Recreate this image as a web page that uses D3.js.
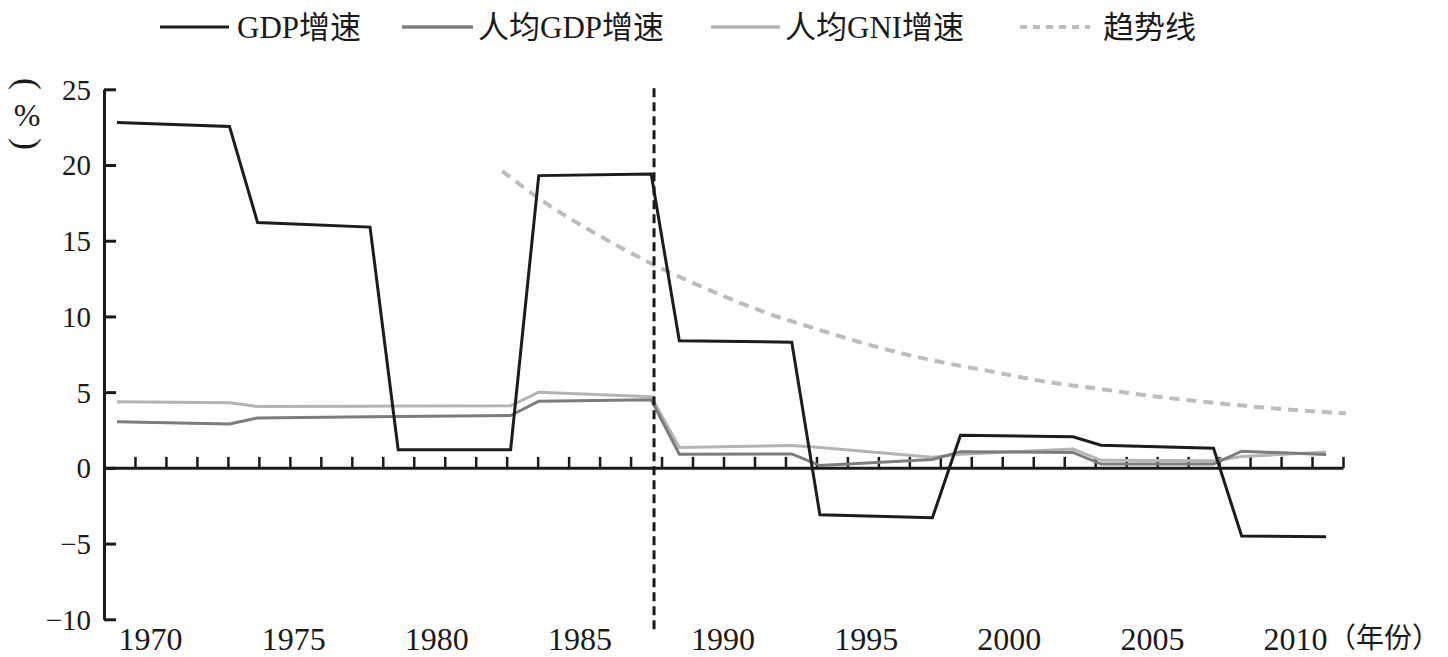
<!DOCTYPE html>
<html>
<head>
<meta charset="utf-8">
<script src="https://cdn.jsdelivr.net/npm/d3@7"></script>
<style>
  html, body { margin: 0; padding: 0; background: #fff; }
  svg { display: block; }
</style>
</head>
<body>
<svg id="chart" width="1448" height="657"></svg>
<script>
// ---------------- data ----------------
const years = [1969, 1973, 1974, 1978, 1979, 1983, 1984, 1988, 1989, 1993, 1994, 1998, 1999, 2003, 2004, 2008, 2009, 2012];
const gdpGrowth = [22.8, 22.55, 16.2, 15.9, 1.2, 1.2, 19.3, 19.4, 8.4, 8.3, -3.1, -3.3, 2.15, 2.05, 1.5, 1.3, -4.5, -4.55];
const gdpPerCapitaGrowth = [3.05, 2.9, 3.3, 3.38, 3.4, 3.46, 4.4, 4.5, 0.9, 0.92, 0.15, 0.55, 1.07, 1.02, 0.25, 0.25, 1.1, 0.88];
const gniPerCapitaGrowth = [4.36, 4.3, 4.05, 4.07, 4.08, 4.1, 5.0, 4.7, 1.35, 1.47, 1.35, 0.7, 0.9, 1.25, 0.5, 0.47, 0.75, 1.05];
const trendYears = [1982.7, 1984, 1986, 1988, 1990, 1992, 1994, 1996, 1998, 2000, 2002, 2004, 2006, 2008, 2010, 2012.7];
const trendValues = [19.6, 17.8, 15.5, 13.5, 11.8, 10.3, 9.1, 8.0, 7.1, 6.4, 5.7, 5.2, 4.7, 4.3, 3.95, 3.6];
const dividerYear = 1988.1;
const yTickValues = [25, 20, 15, 10, 5, 0, -5, -10];
const xTickLabels = [1970, 1975, 1980, 1985, 1990, 1995, 2000, 2005, 2010];
const minorTickCount = 40;
const seriesNames = ["GDP增速", "人均GDP增速", "人均GNI增速", "趋势线"];
const yUnitLabel = "%";
const xUnitLabel = "（年份）";

// ---------------- layout / style ----------------
const svg = d3.select("#chart");
const INK = "#1a1a1a";
const SERIF = '"Liberation Serif", "Times New Roman", serif';
const MIXED = '"Liberation Serif", "Noto Sans CJK SC", serif';
const CJK = '"Noto Sans CJK SC", sans-serif';
const colors = ["#1c1c1c", "#7c7c7c", "#b4b4b4", "#bdbdbd"];

const y = d3.scaleLinear().domain([-10, 25]).range([619.3, 89.3]);
const xData = d3.scaleLinear().domain([1969, 2012]).range([117, 1326]);
const xLabel = d3.scaleLinear().domain([1970, 2010]).range([150, 1295]);
const xMinor = d3.scaleLinear().domain([0, minorTickCount]).range([104, 1343]);
const axisX = 104;

// ---------------- axes ----------------
const yAxis = svg.append("g").attr("transform", `translate(${axisX},0)`)
  .call(d3.axisLeft(y).tickValues(yTickValues).tickSizeInner(-12).tickSizeOuter(0).tickPadding(13)
    .tickFormat(d => d < 0 ? "−" + Math.abs(d) : String(d)));
yAxis.select(".domain").attr("stroke", INK).attr("stroke-width", 3);
yAxis.selectAll(".tick line").attr("stroke", INK).attr("stroke-width", 3);
yAxis.selectAll(".tick text").style("font-family", SERIF).style("font-size", "29px").attr("fill", INK).attr("dy", "0.34em");

const xAxis = svg.append("g").attr("transform", `translate(0,${y(0)})`)
  .call(d3.axisTop(xMinor).tickValues(d3.range(1, minorTickCount + 1)).tickSizeInner(11).tickSizeOuter(0).tickFormat(""));
xAxis.select(".domain").attr("stroke", INK).attr("stroke-width", 3);
xAxis.selectAll(".tick line").attr("stroke", INK).attr("stroke-width", 2.5);

const xLab = svg.append("g").attr("transform", "translate(0,650)")
  .call(d3.axisBottom(xLabel).tickValues(xTickLabels).tickSize(0).tickFormat(d3.format("d")));
xLab.select(".domain").remove();
xLab.selectAll(".tick text").attr("y", 0).attr("dy", 0).style("font-family", SERIF).style("font-size", "32px").attr("fill", INK);

svg.append("text").attr("x", 1328).attr("y", 648).style("font-family", CJK)
  .style("font-size", "28px").attr("fill", INK).text(xUnitLabel);

// vertical unit label (%)
const unitG = svg.append("g").attr("fill", INK);
unitG.append("text").attr("transform", "translate(27,84) rotate(90)").attr("text-anchor", "middle")
  .attr("dy", "0.3em").style("font-family", SERIF).style("font-size", "36px").text("(");
unitG.append("text").attr("x", 27).attr("y", 126).attr("text-anchor", "middle")
  .style("font-family", SERIF).style("font-size", "32px").text(yUnitLabel);
unitG.append("text").attr("transform", "translate(27,144) rotate(90)").attr("text-anchor", "middle")
  .attr("dy", "0.3em").style("font-family", SERIF).style("font-size", "36px").text(")");

// ---------------- lines ----------------
const line = d3.line().x(d => xData(d[0])).y(d => y(d[1]));
const lineCurve = d3.line().x(d => xData(d[0])).y(d => y(d[1])).curve(d3.curveMonotoneX);

svg.append("path").datum(trendYears.map((t, i) => [t, trendValues[i]]))
  .attr("d", lineCurve).attr("fill", "none").attr("stroke", colors[3]).attr("stroke-width", 4).attr("stroke-dasharray", "10,7");

[[gniPerCapitaGrowth, colors[2], 3], [gdpPerCapitaGrowth, colors[1], 3], [gdpGrowth, colors[0], 3]].forEach(([vals, c, w]) => {
  svg.append("path").datum(years.map((t, i) => [t, vals[i]]))
    .attr("d", line).attr("fill", "none").attr("stroke", c).attr("stroke-width", w).attr("stroke-linejoin", "miter");
});

// divider
svg.append("line").attr("x1", xData(dividerYear)).attr("x2", xData(dividerYear))
  .attr("y1", y(25) - 1).attr("y2", 630).attr("stroke", INK).attr("stroke-width", 3).attr("stroke-dasharray", "9,5");

// ---------------- legend ----------------
const legendLayout = [
  { x1: 160, x2: 229, tx: 237, dash: null, w: 3 },
  { x1: 402, x2: 473, tx: 478, dash: null, w: 3.5 },
  { x1: 711, x2: 780, tx: 785, dash: null, w: 3.5 },
  { x1: 1020, x2: 1090, tx: 1103, dash: "7,6", w: 4 }
];
const legend = svg.append("g");
seriesNames.forEach((name, i) => {
  const L = legendLayout[i];
  legend.append("line").attr("x1", L.x1).attr("x2", L.x2).attr("y1", 27).attr("y2", 27)
    .attr("stroke", colors[i]).attr("stroke-width", L.w).attr("stroke-dasharray", L.dash);
  legend.append("text").attr("x", L.tx).attr("y", 38).style("font-family", MIXED).style("font-size", "31px")
    .attr("fill", INK).text(name);
});
</script>
</body>
</html>
